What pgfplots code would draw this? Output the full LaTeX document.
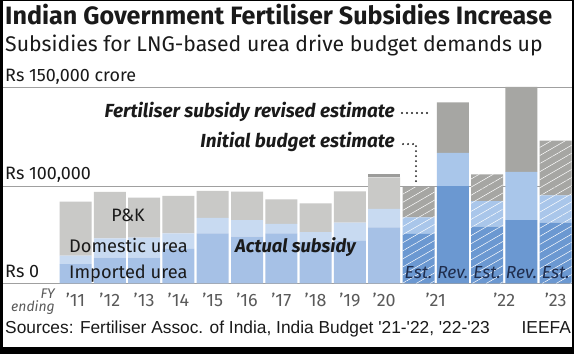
\documentclass[border=0pt]{standalone}
\usepackage{fontspec}
\setmainfont{Fira Sans}
\newfontfamily\srcfont{Liberation Sans}
\usepackage{pgfplots}
\pgfplotsset{compat=1.18}
\usepackage{pgfplotstable}
\usetikzlibrary{patterns.meta}

\definecolor{impA}{HTML}{A6C1E6}
\definecolor{domA}{HTML}{C8DAF1}
\definecolor{pkA}{HTML}{C9C9C7}
\definecolor{impR}{HTML}{6B98D1}
\definecolor{domR}{HTML}{A9C6EA}
\definecolor{pkR}{HTML}{A6A6A3}
\definecolor{stripc}{HTML}{9C9C9A}
\definecolor{gridc}{HTML}{A0A0A0}
\definecolor{navy}{HTML}{1F2D4D}
\definecolor{txt}{HTML}{1A1A1A}
\definecolor{tick}{HTML}{5A5A5A}

% x: 0..9 = FY'11..'20 actual; 10 '21 Est; 11 '21 Rev; 12 '22 Est; 13 '22 Rev; 14 '23 Est
% values in thousand crore
\pgfplotstableread{
x  impA domA pkA  impE domE pkE  impR domR pkR  strip
0  14.4 6.2  40.0 0    0    0    0    0    0    0
1  19.1 14.4 34.3 0    0    0    0    0    0    0
2  19.1 14.8 29.7 0    0    0    0    0    0    0
3  25.6 11.6 27.8 0    0    0    0    0    0    0
4  37.2 11.5 20.0 0    0    0    0    0    0    0
5  34.7 12.3 21.0 0    0    0    0    0    0    0
6  37.2 6.9  18.3 0    0    0    0    0    0    0
7  31.0 7.1  21.3 0    0    0    0    0    0    0
8  31.5 13.5 23.3 0    0    0    0    0    0    0
9  41.6 13.6 23.5 0    0    0    0    0    0    2.2
10 0    0    0    36.7 12.3 22.3 0    0    0    0
11 0    0    0    0    0    0    72.2 24.5 37.5 0
12 0    0    0    42.1 19.0 19.8 0    0    0    0
13 0    0    0    0    0    0    47.0 35.6 63.0 0
14 0    0    0    45.0 20.3 40.5 0    0    0    0
}\data

\tikzset{hatch/.style={postaction={pattern color=white, fill opacity=0.65,
  pattern={Lines[angle=30,distance=7bp,line width=0.5bp]}}}}

\begin{document}
\begin{tikzpicture}
\useasboundingbox (0,0) rectangle (574bp,354bp);
\fill[black] (0,0) rectangle (574bp,354bp);
\fill[white] (3bp,7bp) rectangle (572bp,353bp);

\node[anchor=base west,inner sep=0,text=txt] at (5bp,329bp)
  {\fontsize{25.2}{27}\selectfont\bfseries Indian Government Fertiliser Subsidies Increase};
\node[anchor=base west,inner sep=0,text=txt] at (5bp,302bp)
  {\fontsize{21.3}{23}\selectfont Subsidies for LNG-based urea drive budget demands up};
\node[anchor=base west,inner sep=0,text=txt] at (5bp,272bp)
  {\fontsize{18}{20}\selectfont Rs 150,000 crore};
\node[anchor=base west,inner sep=0,text=txt] at (5bp,174bp)
  {\fontsize{18}{20}\selectfont Rs 100,000};
\node[anchor=base west,inner sep=0,text=txt] at (5bp,76bp)
  {\fontsize{18}{20}\selectfont Rs 0};
\node[anchor=base east,inner sep=0,text=tick] at (55bp,55bp)
  {\fontsize{14}{15}\selectfont\itshape FY};
\node[anchor=base east,inner sep=0,text=tick] at (55bp,42bp)
  {\fontsize{14}{15}\selectfont\itshape ending};
\node[anchor=base west,inner sep=0,text=txt] at (5bp,21bp)
  {\srcfont\fontsize{17.4}{19}\selectfont Sources: Fertiliser Assoc. of India, India Budget '21-'22, '22-'23};
\node[anchor=base east,inner sep=0,text=txt] at (571bp,21bp)
  {\srcfont\fontsize{17.4}{19}\selectfont IEEFA};

\begin{axis}[
  at={(3bp,70.5bp)}, anchor=south west,
  scale only axis, width=569bp, height=196.5bp,
  xmin=-2.1137, xmax=14.475, ymin=0, ymax=145.56,
  axis line style={draw=none},
  ytick={0,72.2,145.56}, yticklabels={}, ymajorgrids,
  grid style={gridc, line width=0.8bp},
  xtick={0,1,2,3,4,5,6,7,8,9,10.5,12.5,14},
  xticklabels={'11,'12,'13,'14,'15,'16,'17,'18,'19,'20,'21,'22,'23},
  xticklabel style={anchor=base, yshift=-23.5bp, text=tick, font=\fontsize{18}{20}\selectfont},
  major tick length=0pt,
  ybar stacked, bar width=32bp,
  clip=false,
]
\addplot[fill=impA, draw=none] table[x=x,y=impA]{\data};
\addplot[fill=impR, draw=none, hatch] table[x=x,y=impE]{\data};
\addplot[fill=impR, draw=none] table[x=x,y=impR]{\data};
\addplot[fill=domA, draw=none] table[x=x,y=domA]{\data};
\addplot[fill=domR, draw=none, hatch] table[x=x,y=domE]{\data};
\addplot[fill=domR, draw=none] table[x=x,y=domR]{\data};
\addplot[fill=pkA, draw=none] table[x=x,y=pkA]{\data};
\addplot[fill=pkR, draw=none, hatch] table[x=x,y=pkE]{\data};
\addplot[fill=pkR, draw=none] table[x=x,y=pkR]{\data};
\addplot[fill=stripc, draw=none] table[x=x,y=strip]{\data};

\coordinate (pk) at (axis cs:1.531,45.6);
\coordinate (dom) at (axis cs:-0.19,23.3);
\coordinate (imp) at (axis cs:-0.19,4.07);
\coordinate (act) at (axis cs:4.65,23.3);
\coordinate (rev) at (axis cs:9.315,123.3);
\coordinate (ini) at (axis cs:9.315,100.4);
\coordinate (d1a) at (axis cs:9.52,126.3);
\coordinate (d1b) at (axis cs:10.39,126.3);
\coordinate (d2a) at (axis cs:9.55,103.3);
\coordinate (d2b) at (axis cs:9.927,103.3);
\coordinate (d2c) at (axis cs:9.927,72.2);
\coordinate (e10) at (axis cs:10,4.07);
\coordinate (e11) at (axis cs:11,4.07);
\coordinate (e12) at (axis cs:12,4.07);
\coordinate (e13) at (axis cs:13,4.07);
\coordinate (e14) at (axis cs:14,4.07);
\end{axis}

\begin{scope}[every node/.style={inner sep=0,text=txt}]
\node[anchor=base,font=\fontsize{18}{20}\selectfont] at (pk) {P\&K};
\node[anchor=base west,font=\fontsize{18.3}{20}\selectfont] at (dom) {Domestic urea};
\node[anchor=base west,font=\fontsize{18.3}{20}\selectfont] at (imp) {Imported urea};
\node[anchor=base west,font=\fontsize{18.5}{20}\selectfont\bfseries\itshape] at (act) {Actual subsidy};
\node[anchor=base east,font=\fontsize{19}{21}\selectfont\bfseries\itshape] at (rev) {Fertiliser subsidy revised estimate};
\node[anchor=base east,font=\fontsize{19}{21}\selectfont\bfseries\itshape] at (ini) {Initial budget estimate};
\foreach \c/\lab in {e10/Est.,e11/Rev.,e12/Est.,e13/Rev.,e14/Est.}
  \node[anchor=base,text=navy,font=\fontsize{17.5}{19}\selectfont\itshape] at (\c) {\lab};
\end{scope}
\draw[txt, line width=2.2bp, line cap=round, dash pattern=on 0pt off 5bp] (d1a) -- (d1b);
\draw[txt, line width=2.2bp, line cap=round, dash pattern=on 0pt off 5bp] (d2a) -- (d2b) -- (d2c);
\end{tikzpicture}
\end{document}
